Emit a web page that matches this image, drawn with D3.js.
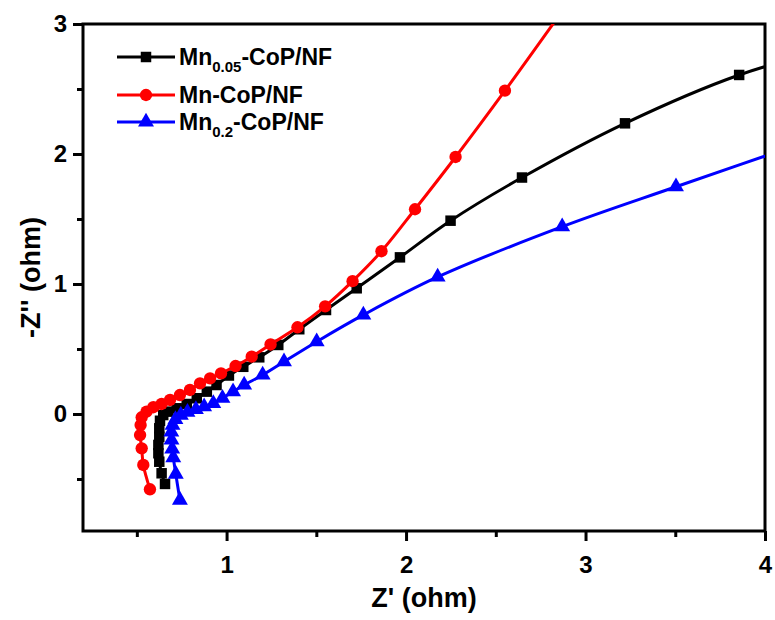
<!DOCTYPE html>
<meta charset="utf-8">
<script src="https://d3js.org/d3.v7.min.js"></script>
<style>
  body { margin: 0; background: #fff; }
  text { font-family: "Liberation Sans", Arial, sans-serif; font-weight: bold; }
</style>
<div id="my_dataviz"></div>
<script>
// data (Z' and -Z'' in ohm)
var mn005X = [0.657, 0.638, 0.625, 0.620, 0.620, 0.625, 0.625, 0.629, 0.647, 0.675, 0.722, 0.778, 0.834, 0.890, 0.944, 1.013, 1.093, 1.182, 1.288, 1.405, 1.554, 1.725, 1.966, 2.248, 2.646, 3.220, 3.856, 4.45];
var mn005Y = [-0.538, -0.456, -0.367, -0.302, -0.238, -0.175, -0.110, -0.052, -0.008, 0.018, 0.044, 0.077, 0.121, 0.172, 0.223, 0.296, 0.363, 0.436, 0.531, 0.652, 0.800, 0.967, 1.205, 1.487, 1.819, 2.236, 2.608, 2.84];

var mnX = [0.573, 0.536, 0.527, 0.518, 0.521, 0.527, 0.554, 0.592, 0.638, 0.685, 0.740, 0.796, 0.852, 0.908, 0.969, 1.050, 1.140, 1.245, 1.395, 1.549, 1.702, 1.863, 2.050, 2.276, 2.551, 2.86];
var mnY = [-0.579, -0.392, -0.264, -0.162, -0.085, -0.025, 0.018, 0.052, 0.077, 0.108, 0.146, 0.185, 0.236, 0.274, 0.313, 0.369, 0.441, 0.535, 0.667, 0.828, 1.022, 1.252, 1.575, 1.977, 2.487, 3.08];

var mn02X = [0.740, 0.717, 0.703, 0.697, 0.693, 0.692, 0.699, 0.715, 0.745, 0.782, 0.829, 0.875, 0.926, 0.977, 1.036, 1.098, 1.201, 1.320, 1.502, 1.762, 2.176, 2.870, 3.504, 4.35];
var mn02Y = [-0.662, -0.462, -0.335, -0.269, -0.200, -0.138, -0.085, -0.041, -0.008, 0.014, 0.035, 0.056, 0.082, 0.121, 0.172, 0.223, 0.300, 0.402, 0.556, 0.762, 1.054, 1.441, 1.748, 2.15];

var xMajor = [1, 2, 3, 4], xMinor = [0.5, 1.5, 2.5, 3.5];
var yMajor = [0, 1, 2, 3], yMinor = [-0.5, 0.5, 1.5, 2.5];

var series = [
  { main: "Mn", sub: "0.05", rest: "-CoP/NF", xs: mn005X, ys: mn005Y, color: "#000000", shape: d3.symbolSquare, size: 110 },
  { main: "Mn-CoP/NF", sub: "", rest: "", xs: mnX, ys: mnY, color: "#ff0000", shape: d3.symbolCircle, size: 120 },
  { main: "Mn", sub: "0.2", rest: "-CoP/NF", xs: mn02X, ys: mn02Y, color: "#0000ff", shape: d3.symbolTriangle, size: 110 }
];

var margin = { top: 24, right: 10, bottom: 89, left: 83 },
    width = 775 - margin.left - margin.right,
    height = 620 - margin.top - margin.bottom;

var svg = d3.select("#my_dataviz")
  .append("svg")
    .attr("width", 775)
    .attr("height", 620)
  .append("g")
    .attr("transform", "translate(" + margin.left + "," + margin.top + ")");

var x = d3.scaleLinear().domain([0.2, 4]).range([0, width]);
var y = d3.scaleLinear().domain([-0.9, 3]).range([height, 0]);

svg.append("clipPath").attr("id", "plot")
  .append("rect").attr("width", width).attr("height", height);

// axes
function styleAxis(g) {
  g.select(".domain").remove();
  g.selectAll("line").attr("stroke", "#000").attr("stroke-width", 3);
  g.selectAll("text").attr("fill", "#000").style("font-size", "24px");
}
svg.append("g").attr("transform", "translate(0," + height + ")")
  .call(d3.axisBottom(x).tickValues(xMajor).tickSize(10).tickPadding(15).tickFormat(d3.format("d")))
  .call(styleAxis);
svg.append("g").attr("transform", "translate(0," + height + ")")
  .call(d3.axisBottom(x).tickValues(xMinor).tickSize(6).tickFormat(""))
  .call(styleAxis);
svg.append("g")
  .call(d3.axisLeft(y).tickValues(yMajor).tickSize(10).tickPadding(6).tickFormat(d3.format("d")))
  .call(styleAxis);
svg.append("g")
  .call(d3.axisLeft(y).tickValues(yMinor).tickSize(6).tickFormat(""))
  .call(styleAxis);

// frame
svg.append("rect")
  .attr("width", width).attr("height", height)
  .attr("fill", "none").attr("stroke", "#000").attr("stroke-width", 3);

// curves
var line = d3.line().curve(d3.curveCatmullRom.alpha(0.5));
var plot = svg.append("g").attr("clip-path", "url(#plot)");
series.forEach(function(s) {
  var pts = s.xs.map(function(v, i) { return [x(v), y(s.ys[i])]; });
  plot.append("path")
    .attr("d", line(pts))
    .attr("fill", "none")
    .attr("stroke", s.color)
    .attr("stroke-width", 3);
  plot.selectAll(null)
    .data(pts)
    .enter()
    .append("path")
    .attr("transform", function(p) { return "translate(" + p[0] + "," + p[1] + ")"; })
    .attr("d", d3.symbol().type(s.shape).size(s.size))
    .attr("fill", s.color);
});

// legend
var legendY = [57 - margin.top, 95 - margin.top, 122 - margin.top];
series.forEach(function(s, i) {
  var g = svg.append("g").attr("transform", "translate(" + (117 - margin.left) + "," + legendY[i] + ")");
  g.append("line").attr("x1", 0).attr("x2", 58).attr("stroke", s.color).attr("stroke-width", 3);
  g.append("path").attr("transform", "translate(29,0)")
    .attr("d", d3.symbol().type(s.shape).size(s.size)).attr("fill", s.color);
  var t = g.append("text").attr("x", 62).attr("y", 8).style("font-size", "23px");
  t.append("tspan").text(s.main);
  if (s.sub) {
    t.append("tspan").attr("dy", 7).style("font-size", "15px").text(s.sub);
    t.append("tspan").attr("dy", -7).text(s.rest);
  }
});

// axis titles
svg.append("text")
  .attr("x", width / 2).attr("y", 607 - margin.top)
  .attr("text-anchor", "middle").style("font-size", "27px")
  .text("Z' (ohm)");
svg.append("text")
  .attr("transform", "translate(" + (40 - margin.left) + "," + (height / 2) + ") rotate(-90)")
  .attr("text-anchor", "middle").style("font-size", "27px")
  .text("-Z'' (ohm)");
</script>
